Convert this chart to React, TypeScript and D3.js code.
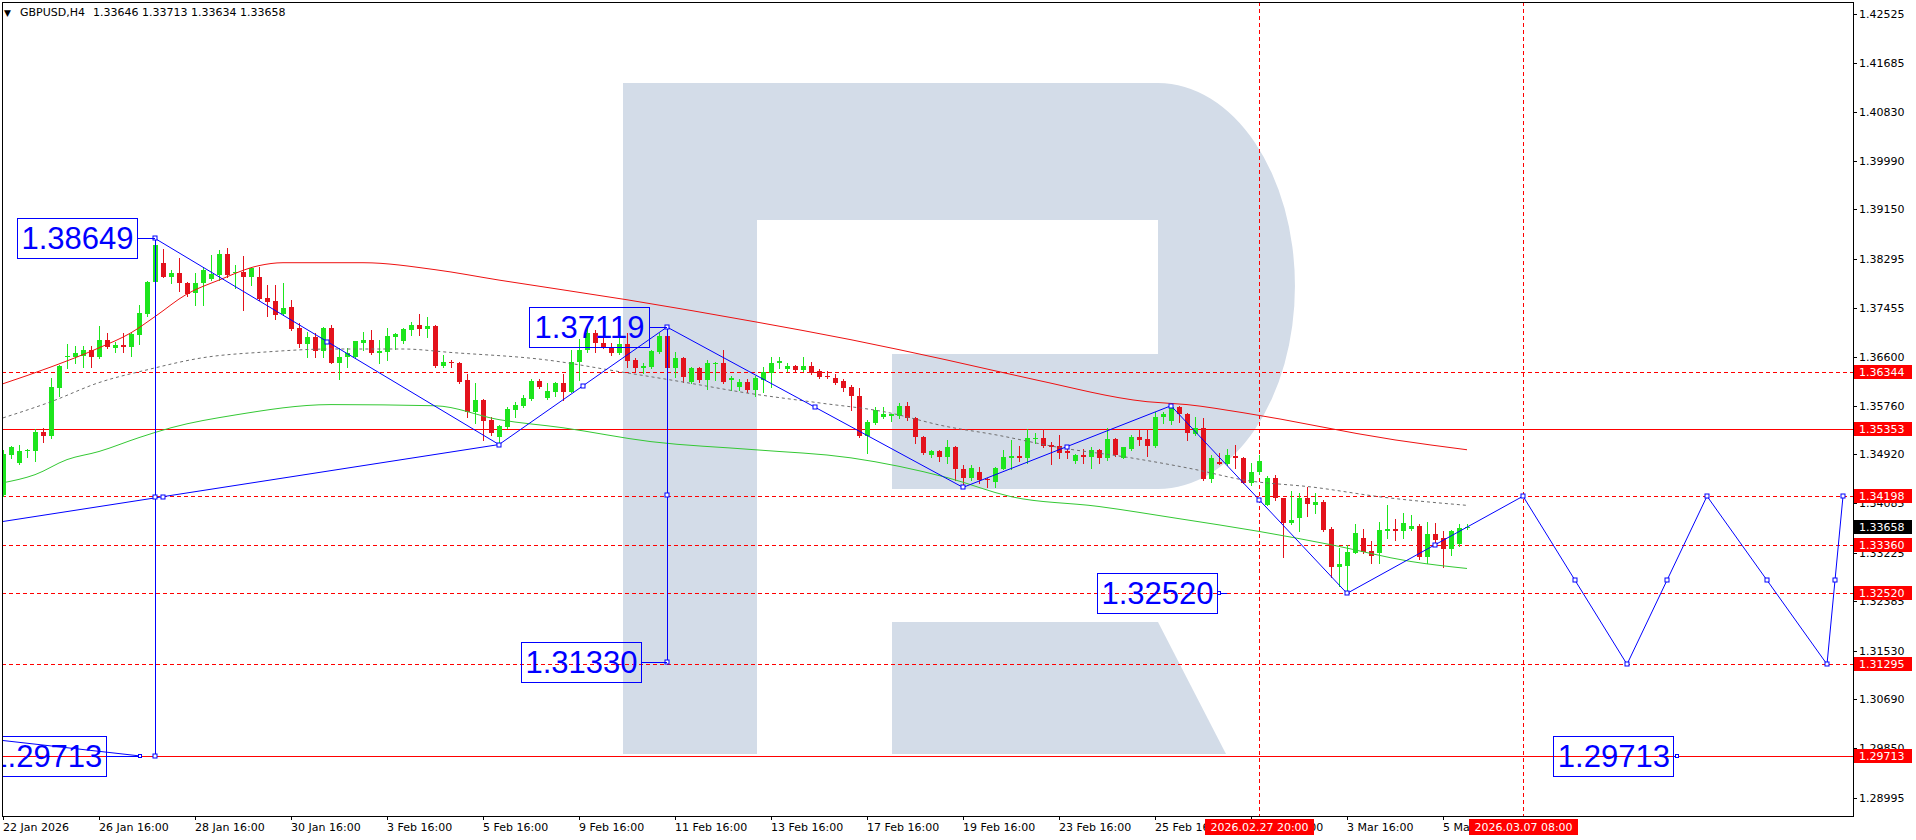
import React from 'react';
import * as d3 from 'd3';

// ---------- DATA ----------
const symbolName = 'GBPUSD,H4';

// H4 candles [open, high, low, close], bar 0 = 22 Jan 2026 16:00
const ohlc: [number, number, number, number][] = [
  [1.3422,1.3500,1.3421,1.3493],[1.3491,1.3507,1.3485,1.3504],[1.3478,1.3509,1.3476,1.3498],[1.3497,1.3502,1.3488,1.3500],
  [1.3497,1.3535,1.3481,1.3531],[1.3531,1.3538,1.3514,1.3524],[1.3524,1.3624,1.3520,1.3609],[1.3607,1.3646,1.3592,1.3645],
  [1.3661,1.3683,1.3642,1.3662],[1.3661,1.3680,1.3650,1.3667],[1.3662,1.3680,1.3643,1.3673],[1.3673,1.3680,1.3643,1.3661],
  [1.3661,1.3714,1.3659,1.3690],[1.3690,1.3702,1.3676,1.3678],[1.3676,1.3686,1.3669,1.3681],[1.3681,1.3702,1.3669,1.3678],
  [1.3678,1.3704,1.3662,1.3700],[1.3699,1.3750,1.3683,1.3736],[1.3734,1.3792,1.3731,1.3790],[1.3789,1.38649,1.3786,1.3854],
  [1.3823,1.3847,1.3798,1.3799],[1.3799,1.3811,1.3788,1.3806],[1.3806,1.3831,1.3774,1.3788],[1.3788,1.3789,1.3766,1.3769],
  [1.3771,1.3806,1.3750,1.3788],[1.3788,1.3816,1.3750,1.3811],[1.3795,1.3837,1.3794,1.3804],[1.3802,1.3845,1.3794,1.3838],
  [1.3838,1.3849,1.3799,1.3802],[1.3806,1.3819,1.3780,1.3807],[1.3807,1.3835,1.3742,1.3799],[1.3799,1.3816,1.3785,1.3814],
  [1.3799,1.3816,1.3759,1.3761],[1.3762,1.3785,1.3731,1.3756],[1.3757,1.3785,1.3726,1.3733],[1.3735,1.3788,1.3733,1.3745],
  [1.3747,1.3759,1.3707,1.3709],[1.3711,1.3719,1.3678,1.3683],[1.3683,1.3704,1.3661,1.3695],[1.3695,1.3702,1.3661,1.3671],
  [1.3671,1.3712,1.3661,1.3711],[1.3711,1.3716,1.3649,1.3650],[1.3650,1.3676,1.3623,1.3661],[1.3661,1.3676,1.3643,1.3667],
  [1.3661,1.3687,1.3659,1.3687],[1.3685,1.3704,1.3673,1.3690],[1.3690,1.3707,1.3666,1.3667],[1.3667,1.3690,1.3650,1.3671],
  [1.3669,1.3711,1.3655,1.3697],[1.3695,1.3702,1.3674,1.3700],[1.3687,1.3711,1.3685,1.3709],[1.3706,1.3721,1.3698,1.3716],
  [1.3716,1.3735,1.3698,1.3709],[1.3709,1.3730,1.3695,1.3714],[1.3714,1.3716,1.3643,1.3645],[1.3645,1.3664,1.3643,1.3652],
  [1.3652,1.3655,1.3643,1.3649],[1.3650,1.3652,1.3616,1.3617],[1.3621,1.3630,1.3557,1.3566],[1.3566,1.3616,1.3547,1.3586],
  [1.3586,1.3588,1.3517,1.3550],[1.3552,1.3557,1.3526,1.3529],[1.3522,1.3543,1.3509,1.3541],[1.3540,1.3573,1.3538,1.3571],
  [1.3569,1.3583,1.3557,1.3578],[1.3576,1.3595,1.3574,1.3590],[1.3588,1.3623,1.3586,1.3619],[1.3619,1.3623,1.3607,1.3609],
  [1.3590,1.3616,1.3588,1.3602],[1.3600,1.3617,1.3592,1.3616],[1.3616,1.3630,1.3586,1.3600],[1.3600,1.3673,1.3599,1.3652],
  [1.3652,1.3692,1.3621,1.3673],[1.3673,1.3711,1.3669,1.3702],[1.3702,1.3707,1.3669,1.3685],[1.3685,1.3702,1.3676,1.3678],
  [1.3678,1.3685,1.3664,1.3667],[1.3667,1.3695,1.3666,1.3683],[1.3683,1.3702,1.3643,1.3654],[1.3655,1.3659,1.3636,1.3642],
  [1.3642,1.3650,1.3633,1.3645],[1.3643,1.3673,1.3642,1.3671],[1.3669,1.3702,1.3667,1.3697],[1.3697,1.37119,1.3640,1.3642],
  [1.3642,1.3669,1.3626,1.3659],[1.3659,1.3661,1.3617,1.3626],[1.3617,1.3643,1.3616,1.3642],[1.3642,1.3643,1.3617,1.3621],
  [1.3621,1.3655,1.3605,1.3650],[1.3649,1.3652,1.3621,1.3650],[1.3650,1.3673,1.3616,1.3617],[1.3621,1.3628,1.3604,1.3624],
  [1.3609,1.3623,1.3604,1.3617],[1.3617,1.3623,1.3600,1.3604],[1.3604,1.3628,1.3592,1.3624],[1.3621,1.3643,1.3599,1.3635],
  [1.3633,1.3661,1.3609,1.3650],[1.3650,1.3661,1.3642,1.3654],[1.3640,1.3649,1.3636,1.3645],[1.3645,1.3647,1.3636,1.3638],
  [1.3638,1.3661,1.3636,1.3645],[1.3645,1.3652,1.3631,1.3633],[1.3636,1.3640,1.3624,1.3626],[1.3628,1.3636,1.3624,1.3626],
  [1.3624,1.3630,1.3614,1.3616],[1.3619,1.3623,1.3602,1.3607],[1.3609,1.3611,1.3569,1.3592],[1.3592,1.3607,1.3522,1.3524],
  [1.3524,1.3552,1.3495,1.3548],[1.3547,1.3573,1.3545,1.3568],[1.3557,1.3573,1.3555,1.3561],[1.3559,1.3562,1.3550,1.3561],
  [1.3559,1.3581,1.3555,1.3576],[1.3576,1.3583,1.3552,1.3554],[1.3554,1.3557,1.3512,1.3522],[1.3522,1.3524,1.3493,1.3495],
  [1.3491,1.3500,1.3488,1.3497],[1.3497,1.3500,1.3480,1.3488],[1.3488,1.3517,1.3478,1.3505],[1.3505,1.3507,1.3448,1.3466],
  [1.3467,1.3474,1.3435,1.3452],[1.3452,1.3474,1.3448,1.3469],[1.3461,1.3471,1.3443,1.3447],[1.3450,1.3452,1.3436,1.3447],
  [1.3445,1.3471,1.3436,1.3469],[1.3467,1.3500,1.3466,1.3488],[1.3485,1.3517,1.3466,1.3490],[1.3490,1.3507,1.3481,1.3485],
  [1.3486,1.3536,1.3478,1.3521],[1.3519,1.3529,1.3512,1.3521],[1.3521,1.3536,1.3505,1.3507],[1.3509,1.3514,1.3476,1.3505],
  [1.3507,1.3526,1.3486,1.3495],[1.3497,1.3504,1.3485,1.3495],[1.3481,1.3493,1.3478,1.3491],[1.3491,1.3502,1.3478,1.3488],
  [1.3488,1.3504,1.3469,1.3500],[1.3500,1.3502,1.3478,1.3485],[1.3485,1.3538,1.3483,1.3519],[1.3519,1.3521,1.3490,1.3491],
  [1.3486,1.3505,1.3485,1.3504],[1.3502,1.3526,1.3500,1.3522],[1.3522,1.3536,1.3509,1.3517],[1.3519,1.3536,1.3490,1.3507],
  [1.3507,1.3566,1.3505,1.3557],[1.3557,1.3566,1.3547,1.3561],[1.3550,1.3576,1.3545,1.3573],[1.3573,1.3576,1.3548,1.3562],
  [1.3562,1.3564,1.3517,1.3529],[1.3528,1.3557,1.3526,1.3538],[1.3538,1.3555,1.3448,1.3450],[1.3450,1.3491,1.3445,1.3486],
  [1.3479,1.3495,1.3476,1.3476],[1.3476,1.3502,1.3474,1.3491],[1.3490,1.3509,1.3469,1.3486],[1.3486,1.3488,1.3442,1.3443],
  [1.3443,1.3478,1.3440,1.3461],[1.3461,1.3491,1.3459,1.3480],[1.3405,1.3455,1.3404,1.3452],[1.3452,1.3457,1.3414,1.3416],
  [1.3416,1.3417,1.3315,1.3374],[1.3374,1.3428,1.3371,1.3379],[1.3383,1.3426,1.3359,1.3417],[1.3416,1.3435,1.3385,1.3407],
  [1.3404,1.3426,1.3391,1.3410],[1.3410,1.3414,1.3360,1.3362],[1.3364,1.3367,1.3281,1.3297],[1.3297,1.3331,1.3264,1.3302],
  [1.3300,1.3336,1.3252,1.3324],[1.3322,1.3371,1.3321,1.3357],[1.3348,1.3364,1.3322,1.3324],[1.3326,1.3343,1.3304,1.3317],
  [1.3322,1.3376,1.3305,1.3362],[1.3360,1.3404,1.3348,1.3364],[1.3364,1.3381,1.3345,1.3360],[1.3360,1.3390,1.3347,1.3374],
  [1.3364,1.3388,1.3362,1.3369],[1.3369,1.3372,1.3312,1.3314],[1.3314,1.3376,1.3305,1.3355],[1.3355,1.3374,1.3334,1.3345],
  [1.3347,1.3359,1.3297,1.3329],[1.3329,1.3362,1.3319,1.3360],[1.3338,1.3371,1.3334,1.3365],[1.33646,1.33713,1.33634,1.33658],
];

// moving averages, sampled [bar, price]
const maRed: [number, number][] = [
  [0,1.3614],[6,1.3643],[12,1.3676],[16,1.3702],[19,1.3730],[23,1.3769],[27,1.3793],[32,1.3818],[35,1.3823],
  [45,1.3823],[54,1.3811],[62,1.3793],[78,1.3759],[94,1.3721],[106,1.3690],[118,1.3655],[129,1.3621],
  [143,1.3583],[148,1.3578],[155,1.3564],[174,1.3517],[183,1.3500],
];
const maGreen: [number, number][] = [
  [0,1.3443],[4,1.3457],[8,1.3483],[12,1.3497],[17,1.3521],[21,1.3538],[29,1.3560],[41,1.3578],[54,1.3576],
  [62,1.3552],[70,1.3538],[81,1.3514],[94,1.3500],[106,1.3486],[118,1.3452],[126,1.3419],[137,1.3402],
  [147,1.3381],[157,1.3359],[166,1.3336],[176,1.3307],[183,1.3295],
];
const maGray: [number, number][] = [
  [0,1.3555],[6,1.3583],[12,1.3616],[18,1.3638],[25,1.3659],[33,1.3669],[41,1.3674],[50,1.3674],[56,1.3668],
  [68,1.3655],[77,1.3635],[85,1.3617],[93,1.3598],[102,1.3581],[110,1.3566],[118,1.3540],[124,1.3526],
  [132,1.3504],[141,1.3486],[149,1.3466],[155,1.3448],[164,1.3435],[172,1.3419],[183,1.3404],
];

// analyst drawing
const zigzag: [number, number][] = [[19,1.38649],[62,1.3509],[83,1.37119],[120,1.3435],[146,1.3576],[168,1.3252],[190,1.34198]];
const forecast: [number, number][] = [[190,1.34198],[203,1.31295],[213,1.34198],[228,1.31295],[230,1.34198]];
const trendLine: [number, number][] = [[-1,1.3374],[62,1.3509]];
const leftLink: [number, number][] = [[-0.4,1.29985],[17.1,1.29713]];
const verticalTargets: { bar: number; from: number; to: number }[] = [
  { bar: 19, from: 1.38649, to: 1.29713 },
  { bar: 83, from: 1.37119, to: 1.3133 },
];
const priceLabels: { text: string; bar: number; price: number }[] = [
  { text: '1.38649', bar: 19, price: 1.38649 },
  { text: '1.37119', bar: 83, price: 1.37119 },
  { text: '1.31330', bar: 83, price: 1.3133 },
  { text: '1.32520', bar: 152, price: 1.3252 },
  { text: '1.29713', bar: 209.3, price: 1.29713 },
  { text: '1.29713', bar: 17.1, price: 1.29713 },
];
const labelGaps = [18, 18, 26, 2, 4, 34];

const levelPrices = [1.36344, 1.35353, 1.34198, 1.3336, 1.3252, 1.31295, 1.29713];
const levelSolid = [false, true, false, false, false, false, true];
const levelText = ['1.36344', '1.35353', '1.34198', '1.33360', '1.32520', '1.31295', '1.29713'];
const currentPrice = 1.33658;
const currentText = '1.33658';

const timeMarks: { bar: number; text: string }[] = [
  { bar: 157, text: '2026.02.27 20:00' },
  { bar: 190, text: '2026.03.07 08:00' },
];

const priceTicks = ['1.42525','1.41685','1.40830','1.39990','1.39150','1.38295','1.37455','1.36600','1.35760',
  '1.34920','1.34085','1.33225','1.32385','1.31530','1.30690','1.29850','1.28995'];

const timeTicks: { bar: number; text: string }[] = [
  { bar: 0, text: '22 Jan 2026' }, { bar: 12, text: '26 Jan 16:00' }, { bar: 24, text: '28 Jan 16:00' },
  { bar: 36, text: '30 Jan 16:00' }, { bar: 48, text: '3 Feb 16:00' }, { bar: 60, text: '5 Feb 16:00' },
  { bar: 72, text: '9 Feb 16:00' }, { bar: 84, text: '11 Feb 16:00' }, { bar: 96, text: '13 Feb 16:00' },
  { bar: 108, text: '17 Feb 16:00' }, { bar: 120, text: '19 Feb 16:00' }, { bar: 132, text: '23 Feb 16:00' },
  { bar: 144, text: '25 Feb 16:00' }, { bar: 156, text: '27 Feb 16:00' }, { bar: 168, text: '3 Mar 16:00' },
  { bar: 180, text: '5 Mar 16:00' },
];

// ---------- LAYOUT ----------
const W = 1916, H = 840;
const PL = 2, PR = 1853, PT = 2, PB = 816;
const BULL = '#1de51d', BEAR = '#e3121c', RED = '#ff0000', BLUE = '#0000ff';
const AX_FONT = '"DejaVu Sans", Verdana, sans-serif';
const BIG_FONT = '"Liberation Sans", Arial, sans-serif';

const x = d3.scaleLinear().domain([0, 230]).range([3, 1843]);
const y = d3.scaleLinear().domain([1.28995, 1.42525]).range([797.5, 14]);

const lineGen = d3.line<[number, number]>().x(d => x(d[0])).y(d => y(d[1]));
const smoothGen = d3.line<[number, number]>().x(d => x(d[0])).y(d => y(d[1])).curve(d3.curveMonotoneX);

function mid(a: [number, number], b: [number, number]): [number, number] {
  return [(a[0] + b[0]) / 2, (a[1] + b[1]) / 2];
}

const Sq = ({ px, py, s = 5 }: { px: number; py: number; s?: number }) => (
  <rect x={Math.round(px) - s / 2 + 0.5} y={Math.round(py) - s / 2 + 0.5} width={s - 1} height={s - 1} fill="#fff" stroke={BLUE} strokeWidth={1} />
);

export default function App() {
  const zzSquares: [number, number][] = [];
  zigzag.forEach((p, i) => { zzSquares.push(p); if (i > 0) zzSquares.push(mid(zigzag[i - 1], p)); });
  forecast.forEach((p, i) => { if (i > 0) { zzSquares.push(p); zzSquares.push(mid(forecast[i - 1], p)); } });

  const logoPath = 'M623,83 H1158 A137,203 0 0 1 1158,489 H892 V354 H1158 V220 H757 V754 H623 Z';
  const legPath = 'M892,622 H1158 L1226,754 H892 Z';

  const last = ohlc[ohlc.length - 1];

  return (
    <svg width={W} height={H} style={{ position: 'absolute', left: 0, top: 0, background: '#fff', display: 'block' }}>
      <defs>
        <clipPath id="plot"><rect x={PL + 1} y={PT + 1} width={PR - PL - 1} height={PB - PT - 1} /></clipPath>
      </defs>
      <rect x={0} y={0} width={W} height={H} fill="#fff" />
      <g clipPath="url(#plot)">
        {/* watermark */}
        <path d={logoPath} fill="#d3dce8" fillRule="evenodd" />
        <path d={legPath} fill="#d3dce8" />

        {/* level lines */}
        {levelPrices.map((p, i) => (
          <line key={'lv' + i} x1={PL} x2={PR} y1={Math.round(y(p)) + 0.5} y2={Math.round(y(p)) + 0.5}
            stroke={RED} strokeWidth={1} strokeDasharray={levelSolid[i] ? undefined : '4,3'} />
        ))}
        {timeMarks.map((t, i) => (
          <line key={'tm' + i} x1={x(t.bar) + 0.5} x2={x(t.bar) + 0.5} y1={PT} y2={PB} stroke={RED} strokeDasharray="4,3" />
        ))}

        {/* candles */}
        {ohlc.map((d, i) => {
          const [o, h, l, c] = d;
          const cx = Math.round(x(i));
          const col = c >= o ? BULL : BEAR;
          const t = Math.round(Math.min(y(o), y(c)));
          const b = Math.round(Math.max(y(o), y(c)));
          return (
            <g key={'c' + i}>
              <line x1={cx + 0.5} x2={cx + 0.5} y1={Math.round(y(h))} y2={Math.round(y(l)) + 1} stroke={col} />
              <rect x={cx - 2} y={t} width={5} height={Math.max(1, b - t)} fill={col} />
            </g>
          );
        })}

        {/* moving averages */}
        <path d={smoothGen(maGray) || ''} fill="none" stroke="#6e6e6e" strokeWidth={1} strokeDasharray="3,3" />
        <path d={smoothGen(maGreen) || ''} fill="none" stroke="#34c834" strokeWidth={1} />
        <path d={smoothGen(maRed) || ''} fill="none" stroke="#ee1111" strokeWidth={1} />

        {/* analyst objects */}
        <path d={lineGen(trendLine) || ''} fill="none" stroke={BLUE} strokeWidth={1} />
        <path d={lineGen(leftLink) || ''} fill="none" stroke={BLUE} strokeWidth={1} />
        <path d={lineGen(zigzag) || ''} fill="none" stroke={BLUE} strokeWidth={1} />
        <path d={lineGen(forecast) || ''} fill="none" stroke={BLUE} strokeWidth={1} />
        {verticalTargets.map((v, i) => (
          <g key={'vt' + i}>
            <line x1={x(v.bar) + 0.5} x2={x(v.bar) + 0.5} y1={y(v.from)} y2={y(v.to)} stroke={BLUE} />
            <Sq px={x(v.bar)} py={(y(v.from) + y(v.to)) / 2} />
            <Sq px={x(v.bar)} py={y(v.to)} />
          </g>
        ))}
        <Sq px={x(trendLine[0][0] + (trendLine[1][0] - trendLine[0][0]) * 21 / 63)} py={y(trendLine[0][1] + (trendLine[1][1] - trendLine[0][1]) * 21 / 63)} />
        {zzSquares.map((p, i) => <Sq key={'zs' + i} px={x(p[0])} py={y(p[1])} />)}

        {/* price labels */}
        {priceLabels.map((lb, i) => {
          const ax = x(lb.bar), ay = y(lb.price);
          const right = ax - labelGaps[i];
          const bw = 120, bh = 40;
          const bx = right - bw, by = ay - bh / 2;
          return (
            <g key={'pl' + i}>
              <line x1={right} x2={ax + (i === 3 ? 8 : 0)} y1={Math.round(ay) + 0.5} y2={Math.round(ay) + 0.5} stroke={BLUE} />
              {(i >= 3) && <Sq px={ax} py={ay} s={4} />}
              <rect x={Math.round(bx) + 0.5} y={Math.round(by) + 0.5} width={bw} height={bh} fill="none" stroke={BLUE} />
              <text x={bx + bw / 2 + 0.5} y={ay + 11} textAnchor="middle" fontFamily={BIG_FONT} fontSize={31} fill={BLUE}>{lb.text}</text>
            </g>
          );
        })}
      </g>

      {/* frame */}
      <rect x={PL + 0.5} y={PT + 0.5} width={PR - PL} height={PB - PT} fill="none" stroke="#000" />

      {/* header */}
      <text x={4} y={16} fontFamily={AX_FONT} fontSize={9} fill="#000">▼</text>
      <text x={20} y={16} fontFamily={AX_FONT} fontSize={11} fill="#000">{symbolName}</text>
      <text x={93} y={16} fontFamily={AX_FONT} fontSize={11} fill="#000">{last.map(v => v.toFixed(5)).join(' ')}</text>

      {/* price axis */}
      {priceTicks.map((t, i) => {
        const py = Math.round(y(+t));
        return (
          <g key={'pt' + i}>
            <line x1={PR} x2={PR + 4} y1={py + 0.5} y2={py + 0.5} stroke="#000" />
            <text x={PR + 6} y={py + 4} fontFamily={AX_FONT} fontSize={11} fill="#000">{t}</text>
          </g>
        );
      })}
      {levelPrices.map((p, i) => {
        const py = Math.round(y(p));
        return (
          <g key={'ll' + i}>
            <rect x={PR + 1} y={py - 7} width={58} height={14} fill={RED} />
            <text x={PR + 6} y={py + 4} fontFamily={AX_FONT} fontSize={11} fill="#fff">{levelText[i]}</text>
          </g>
        );
      })}
      <g>
        <rect x={PR + 1} y={Math.round(y(currentPrice)) - 7} width={58} height={14} fill="#000" />
        <text x={PR + 6} y={Math.round(y(currentPrice)) + 4} fontFamily={AX_FONT} fontSize={11} fill="#fff">{currentText}</text>
      </g>

      {/* time axis */}
      {timeTicks.map((t, i) => {
        const tx = Math.round(x(t.bar));
        return (
          <g key={'tt' + i}>
            <line x1={tx + 0.5} x2={tx + 0.5} y1={PB} y2={PB + 4} stroke="#000" />
            <text x={tx} y={831} fontFamily={AX_FONT} fontSize={11} fill="#000">{t.text}</text>
          </g>
        );
      })}
      {timeMarks.map((t, i) => {
        const tx = x(t.bar);
        return (
          <g key={'tml' + i}>
            <rect x={tx - 54} y={819} width={109} height={16} fill={RED} />
            <text x={tx + 0.5} y={831} textAnchor="middle" fontFamily={AX_FONT} fontSize={11} fill="#fff">{t.text}</text>
          </g>
        );
      })}
    </svg>
  );
}
